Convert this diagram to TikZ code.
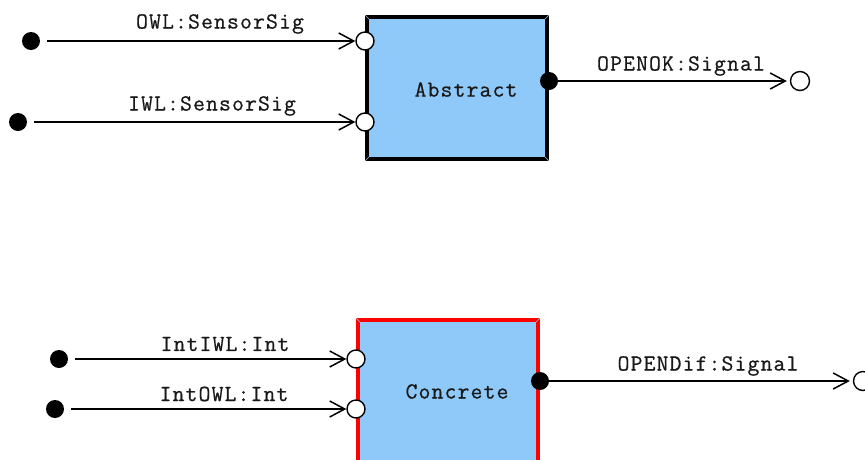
\documentclass[tikz,border=0pt]{standalone}
\usepackage{fontspec}
\newfontfamily\lblfont[LetterSpace=5,FakeBold=0.6]{Latin Modern Mono}
\usetikzlibrary{arrows.meta}
\definecolor{boxblue}{HTML}{8EC9FA}
\definecolor{bevel}{HTML}{9FC4E6}
\begin{document}
\begin{tikzpicture}[x=1pt,y=-1pt,
  lbl/.style={font=\fontsize{23}{23}\lblfont, inner sep=0pt, text=black!90},
  boxtext/.style={font=\fontsize{23}{23}\lblfont, inner sep=0pt, text=black!90},
  srcdot/.style={circle, fill=black, minimum size=18pt, inner sep=0pt},
  inport/.style={circle, draw=black, fill=white, line width=1.4pt, minimum size=18pt, inner sep=0pt},
  outport/.style={circle, fill=black, minimum size=18pt, inner sep=0pt},
  sinkport/.style={circle, draw=black, fill=white, line width=1.4pt, minimum size=19pt, inner sep=0pt},
  flow/.style={line width=1.5pt, -{Straight Barb[length=15pt,width=16pt,line width=1.5pt]}},
  blockA/.style={fill=boxblue, draw=black, line width=4.5pt},
  blockC/.style={fill=boxblue, draw=red, line width=4.5pt}]
\clip (0,0) rectangle (865,459);

% abstract block
\draw[blockA] (367,17) rectangle (547,159);
\draw[bevel, line width=0.6pt] (364.8,14.8) -- (369.2,19.2) (549.2,14.8) -- (544.8,19.2)
  (364.8,161.2) -- (369.2,156.8) (549.2,161.2) -- (544.8,156.8);
\node[boxtext] (abs) at (466,89.5) {Abstract};

% concrete block
\draw[blockC] (358,320) rectangle (538,475);
\draw[bevel, line width=0.6pt] (355.8,317.8) -- (360.2,322.2) (540.2,317.8) -- (535.8,322.2);
\node[boxtext] (con) at (457,391.5) {Concrete};

% abstract ports
\node[srcdot] (s1) at (31,41) {};
\node[srcdot] (s2) at (18,122) {};
\node[inport] (i1) at (365,41) {};
\node[inport] (i2) at (365,122) {};
\node[outport] (o1) at (549,81) {};
\node[sinkport] (k1) at (800,81) {};

% concrete ports
\node[srcdot] (s3) at (59,359) {};
\node[srcdot] (s4) at (55,409) {};
\node[inport] (i3) at (356,359) {};
\node[inport] (i4) at (356,409) {};
\node[outport] (o2) at (540,381) {};
\node[sinkport] (k2) at (863,381) {};

% connectors
\draw[flow, shorten <=7pt] (s1) -- (i1);
\draw[flow, shorten <=7pt] (s2) -- (i2);
\draw[flow, shorten >=3pt] (o1) -- (k1);
\draw[flow, shorten <=7pt] (s3) -- (i3);
\draw[flow, shorten <=7pt] (s4) -- (i4);
\draw[flow, shorten >=3pt] (o2) -- (k2);

% signal names
\node[lbl] (l1) at (220,24) {OWL:SensorSig};
\node[lbl] (l2) at (212,106) {IWL:SensorSig};
\node[lbl] (l3) at (681,66) {OPENOK:Signal};
\node[lbl] (l4) at (225,344) {IntIWL:Int};
\node[lbl] (l5) at (224,394) {IntOWL:Int};
\node[lbl] (l6) at (708,366) {OPENDif:Signal};
\end{tikzpicture}
\end{document}
